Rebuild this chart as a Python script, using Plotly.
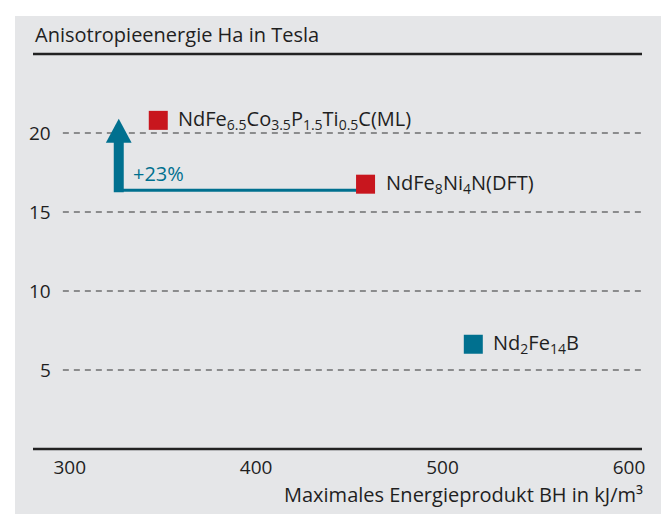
import plotly.graph_objects as go

# ---- data ----
materials = ["NdFe<sub>6.5</sub>Co<sub>3.5</sub>P<sub>1.5</sub>Ti<sub>0.5</sub>C(ML)",
             "NdFe<sub>8</sub>Ni<sub>4</sub>N(DFT)",
             "Nd<sub>2</sub>Fe<sub>14</sub>B"]
energy_product = [347.5, 458.7, 516.5]      # kJ/m3
anisotropy = [20.8, 16.76, 6.63]            # Tesla
colors = ["#c8161e", "#c8161e", "#00708f"]

x_ticks = [300, 400, 500, 600]
y_ticks = [5, 10, 15, 20]
x_range = [280.3, 607]
y_range = [0, 25]

arrow_x = 326.3
arrow_y_base = 16.3
arrow_y_tip = 20.9
arrow_label = "+23%"

FONT = "Open Sans"
TEXT = "#1f1f1f"
TEAL = "#00708f"

fig = go.Figure()

# grey panel background (first, so it sits beneath the gridlines)
fig.add_shape(type="rect", xref="paper", yref="paper", x0=-0.0296, x1=1.1, y0=-0.3, y1=1.0962,
              fillcolor="#e5e6e8", line=dict(width=0), layer="below")

# horizontal connector (from arrow to NdFe8Ni4N point)
fig.add_trace(go.Scatter(x=[arrow_x - 2, energy_product[1]], y=[arrow_y_base + 0.08] * 2,
                         mode="lines", line=dict(color=TEAL, width=3),
                         hoverinfo="skip", showlegend=False))
# vertical shaft
head_h = 1.52
fig.add_trace(go.Scatter(x=[arrow_x, arrow_x], y=[arrow_y_base - 0.05, arrow_y_tip - head_h + 0.1],
                         mode="lines", line=dict(color=TEAL, width=10),
                         hoverinfo="skip", showlegend=False))
# arrow head
hw = 6.9
fig.add_trace(go.Scatter(x=[arrow_x - hw, arrow_x + hw, arrow_x, arrow_x - hw],
                         y=[arrow_y_tip - head_h, arrow_y_tip - head_h, arrow_y_tip, arrow_y_tip - head_h],
                         mode="lines", fill="toself", fillcolor=TEAL,
                         line=dict(color=TEAL, width=0),
                         hoverinfo="skip", showlegend=False))

# points
fig.add_trace(go.Scatter(x=energy_product, y=anisotropy, mode="markers",
                         marker=dict(symbol="square", size=19, color=colors, line=dict(width=0)),
                         showlegend=False))

for xv, yv, t in zip(energy_product, anisotropy, materials):
    fig.add_annotation(x=xv, y=yv, text=t, showarrow=False, xanchor="left", yanchor="middle",
                       xshift=18, yshift=1, font=dict(family=FONT, size=20, color=TEXT))

fig.add_annotation(x=arrow_x, y=arrow_y_base, text=arrow_label, showarrow=False,
                   xanchor="left", yanchor="bottom", xshift=12, yshift=2,
                   font=dict(family=FONT, size=20, color=TEAL))

# y tick labels and dashed gridlines
for yv in y_ticks:
    fig.add_annotation(x=0.033, xref="paper", y=yv, yref="y", text=str(yv), showarrow=False,
                       xanchor="right", yanchor="middle", font=dict(family=FONT, size=19, color=TEXT))
    fig.add_shape(type="line", xref="paper", yref="y", x0=0.049, x1=1, y0=yv, y1=yv,
                  line=dict(color="#333333", width=1.2, dash="6px,5px"), layer="below")

# top and bottom solid lines
for yp in [0, 1]:
    fig.add_shape(type="line", xref="paper", yref="paper", x0=0, x1=1, y0=yp, y1=yp,
                  line=dict(color="#222222", width=2.5))

fig.add_annotation(x=0, xref="paper", y=1, yref="paper", text="Anisotropieenergie Ha in Tesla",
                   showarrow=False, xanchor="left", yanchor="bottom", yshift=4,
                   font=dict(family=FONT, size=20, color=TEXT))
fig.add_annotation(x=1.005, xref="paper", y=-0.116, yref="paper",
                   text="Maximales Energieprodukt BH in kJ/m³",
                   showarrow=False, xanchor="right", yanchor="middle",
                   font=dict(family=FONT, size=20, color=TEXT))

# page body has an 8px default margin, so the figure is offset by 8px
fig.update_layout(
    width=661, height=506,
    margin=dict(l=25, r=27, t=46, b=65),
    paper_bgcolor="white", plot_bgcolor="rgba(0,0,0,0)",
    xaxis=dict(range=x_range, tickvals=x_ticks, showgrid=False, zeroline=False, showline=False,
               ticks="", tickfont=dict(family=FONT, size=19, color=TEXT), ticklabelstandoff=5),
    yaxis=dict(range=y_range, showgrid=False, zeroline=False, showline=False,
               showticklabels=False, ticks=""),
)

fig.write_html("out.html")
